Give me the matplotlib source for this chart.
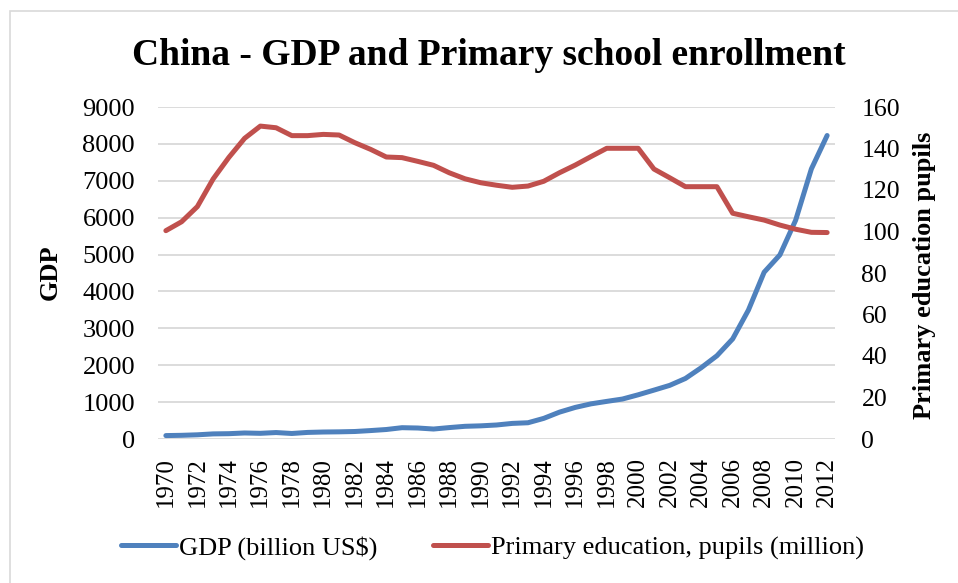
import matplotlib.pyplot as plt
from matplotlib.patches import Rectangle

# China: GDP vs primary school enrollment, 1970-2012
years = list(range(1970, 2013))

gdp_billion_usd = [92.6, 99.8, 113.7, 138.5, 144.2, 163.4, 153.9, 174.9, 149.5, 178.3,
                   189.4, 194.1, 203.2, 228.5, 257.4, 306.7, 297.8, 270.4, 309.5, 344.0,
                   356.9, 379.5, 422.7, 440.5, 559.2, 728.0, 856.1, 952.7, 1019.5, 1083.3,
                   1198.5, 1324.8, 1453.8, 1640.9, 1931.6, 2256.9, 2712.9, 3494.2, 4521.8, 4990.5,
                   5930.5, 7321.9, 8227.1]

pupils_million = [100.4, 104.7, 112.0, 125.3, 135.7, 144.9, 150.8, 150.0, 146.2, 146.2,
                  146.8, 146.5, 142.8, 139.6, 135.9, 135.6, 133.8, 131.9, 128.3, 125.4,
                  123.5, 122.3, 121.3, 121.9, 124.2, 128.3, 132.0, 136.1, 140.1, 140.1,
                  140.1, 130.1, 125.9, 121.6, 121.6, 121.6, 108.8, 107.1, 105.5, 103.1,
                  101.1, 99.6, 99.5]

gdp_ticks = list(range(0, 9001, 1000))
pupil_ticks = list(range(0, 161, 20))
year_ticks = years[::2]

BLUE = '#4F81BD'
RED = '#C0504D'
GRID = '#D9D9D9'
FS = 19

plt.rcParams['font.family'] = ['Liberation Serif', 'DejaVu Serif']

W, H = 958, 583
fig = plt.figure(figsize=(W / 100, H / 100), dpi=100)

# chart area border (runs off the right and bottom edges)
fig.patches.append(Rectangle((10 / W, -0.1), 1.2, 1.1 - 11 / H, transform=fig.transFigure,
                             fill=False, edgecolor='#D9D9D9', linewidth=1.2))

ax = fig.add_axes([158 / W, 1 - 439 / H, (835 - 158) / W, (439 - 107) / H])
ax2 = ax.twinx()

ax.plot(years, gdp_billion_usd, color=BLUE, lw=3.6, solid_capstyle='round',
        label='GDP (billion US$)', zorder=3)
ax2.plot(years, pupils_million, color=RED, lw=3.6, solid_capstyle='round',
         label='Primary education, pupils (million)', zorder=3)

ax.set_xlim(1969.5, 2012.5)
ax.set_ylim(0, 9000)
ax2.set_ylim(0, 160)
ax.set_yticks(gdp_ticks)
ax2.set_yticks(pupil_ticks)
ax.set_xticks(year_ticks)
ax.set_xticklabels([str(y) for y in year_ticks], rotation=90)

ax.grid(axis='y', color=GRID, lw=1.3)
ax.set_axisbelow(True)
for a in (ax, ax2):
    for s in a.spines.values():
        s.set_visible(False)
ax.tick_params(axis='both', length=0, labelsize=FS)
ax.tick_params(axis='y', pad=16.5)
ax.tick_params(axis='x', labelsize=18, pad=13)
ax2.tick_params(axis='y', length=0, labelsize=18.5, pad=19)

# axis titles
fig.text(50 / W, 1 - 272 / H, 'GDP', rotation=90, ha='center', va='center',
         fontsize=FS, fontweight='bold')
fig.text(925 / W, 1 - 275 / H, 'Primary education pupils', rotation=90, ha='center',
         va='center', fontsize=FS, fontweight='bold')

fig.text(489 / W, 1 - 65 / H, 'China - GDP and Primary school enrollment',
         ha='center', va='baseline', fontsize=27, fontweight='bold')

h1, l1 = ax.get_legend_handles_labels()
h2, l2 = ax2.get_legend_handles_labels()
fig.legend(h1 + h2, l1 + l2, loc='center left', bbox_to_anchor=(97 / W, 1 - 548 / H), ncol=2,
           frameon=False, fontsize=FS, handlelength=2.1, handletextpad=0.1, columnspacing=2.1)

fig.savefig('out.png', dpi=100)
